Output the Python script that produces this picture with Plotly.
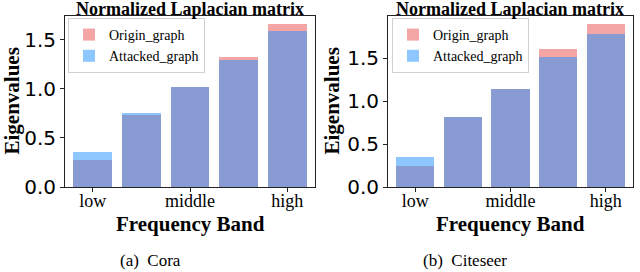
import plotly.graph_objects as go

# ---- data ----
bands = [0, 1, 2, 3, 4]
band_ticks = [0, 2, 4]
band_labels = ["low", "middle", "high"]

cora_origin = [0.28, 0.73, 1.02, 1.33, 1.66]
cora_attacked = [0.36, 0.75, 1.02, 1.29, 1.59]

citeseer_origin = [0.24, 0.82, 1.14, 1.61, 1.90]
citeseer_attacked = [0.35, 0.82, 1.14, 1.52, 1.79]

y_ticks = [0.0, 0.5, 1.0, 1.5]
y_tick_labels = ["0.0", "0.5", "1.0", "1.5"]

W, H = 640, 272
SERIF = "Liberation Serif"
SANS = "DejaVu Sans"

ORIGIN_COLOR = "rgba(240,128,128,0.7)"
ATTACK_COLOR = "rgba(30,144,255,0.5)"


def px_x(p):
    return p / W


def px_y(p):
    return 1 - p / H


fig = go.Figure()

panels = [
    ("x", "y", "legend", cora_origin, cora_attacked),
    ("x2", "y2", "legend2", citeseer_origin, citeseer_attacked),
]
for xa, ya, lg, orig, att in panels:
    fig.add_trace(go.Bar(x=bands, y=orig, width=0.8, name="Origin_graph",
                         marker=dict(color=ORIGIN_COLOR, line=dict(width=0)),
                         xaxis=xa, yaxis=ya, legend=lg))
    fig.add_trace(go.Bar(x=bands, y=att, width=0.8, name="Attacked_graph",
                         marker=dict(color=ATTACK_COLOR, line=dict(width=0)),
                         xaxis=xa, yaxis=ya, legend=lg))

ydom = [px_y(187), px_y(16)]
axis_common = dict(showgrid=False, zeroline=False, showline=True, linecolor="#222",
                   linewidth=1, mirror=True, ticks="outside", ticklen=4,
                   tickcolor="#222", tickwidth=1, automargin=False)

xcommon = dict(axis_common, range=[-0.57, 4.57], tickmode="array", tickvals=band_ticks,
               ticktext=band_labels, ticklabelstandoff=-7,
               tickfont=dict(family=SERIF, size=18, color="black"))
ycommon = dict(axis_common, tickmode="array", tickvals=y_ticks, ticktext=y_tick_labels,
               tickfont=dict(family=SANS, size=20, color="black"))

legend_common = dict(xanchor="left", yanchor="top", y=px_y(18),
                     bgcolor="rgba(255,255,255,0.8)", bordercolor="#d0d0d0", borderwidth=1,
                     font=dict(family=SERIF, size=14, color="black"), tracegroupgap=0)

fig.update_layout(
    width=W, height=H, autosize=False,
    margin=dict(l=0, r=0, t=0, b=0, autoexpand=False),
    paper_bgcolor="white", plot_bgcolor="white",
    font=dict(family=SERIF, color="black"),
    barmode="overlay", bargap=0,
    xaxis=dict(xcommon, domain=[px_x(65), px_x(315)], anchor="y"),
    yaxis=dict(ycommon, domain=ydom, anchor="x",
               range=[0, max(cora_origin + cora_attacked) * 1.05]),
    xaxis2=dict(xcommon, domain=[px_x(388), px_x(633)], anchor="y2"),
    yaxis2=dict(ycommon, domain=ydom, anchor="x2",
                range=[0, max(citeseer_origin + citeseer_attacked) * 1.05]),
    legend=dict(legend_common, x=px_x(68)),
    legend2=dict(legend_common, x=px_x(392)),
    showlegend=True,
)

annos = []
for cx, ylab_x in [(190, 11), (510, 331)]:
    annos.append(dict(text="<b>Normalized Laplacian matrix</b>", x=px_x(cx), y=px_y(8.5),
                      xref="paper", yref="paper", showarrow=False,
                      font=dict(family=SERIF, size=18, color="black"),
                      xanchor="center", yanchor="middle"))
    annos.append(dict(text="<b>Frequency Band</b>", x=px_x(cx), y=px_y(224),
                      xref="paper", yref="paper", showarrow=False,
                      font=dict(family=SERIF, size=21, color="black"),
                      xanchor="center", yanchor="middle"))
    annos.append(dict(text="<b>Eigenvalues</b>", x=px_x(ylab_x), y=px_y(101.5),
                      xref="paper", yref="paper", showarrow=False, textangle=-90,
                      font=dict(family=SERIF, size=21, color="black"),
                      xanchor="center", yanchor="middle"))
for cx, cap in [(150, "(a)\u00a0\u00a0Cora"), (465, "(b)\u00a0\u00a0Citeseer")]:
    annos.append(dict(text=cap, x=px_x(cx), y=0,
                      xref="paper", yref="paper", showarrow=False,
                      font=dict(family=SERIF, size=17, color="black"),
                      xanchor="center", yanchor="bottom"))
fig.update_layout(annotations=annos)

post = (
    "var h=document.documentElement, b=document.body;"
    "h.style.margin='0'; h.style.padding='0'; h.style.overflow='hidden';"
    "b.style.margin='0'; b.style.padding='0'; b.style.overflow='hidden';"
)

fig.write_html("out.html",
               config={"responsive": False, "displayModeBar": False},
               post_script=post)
